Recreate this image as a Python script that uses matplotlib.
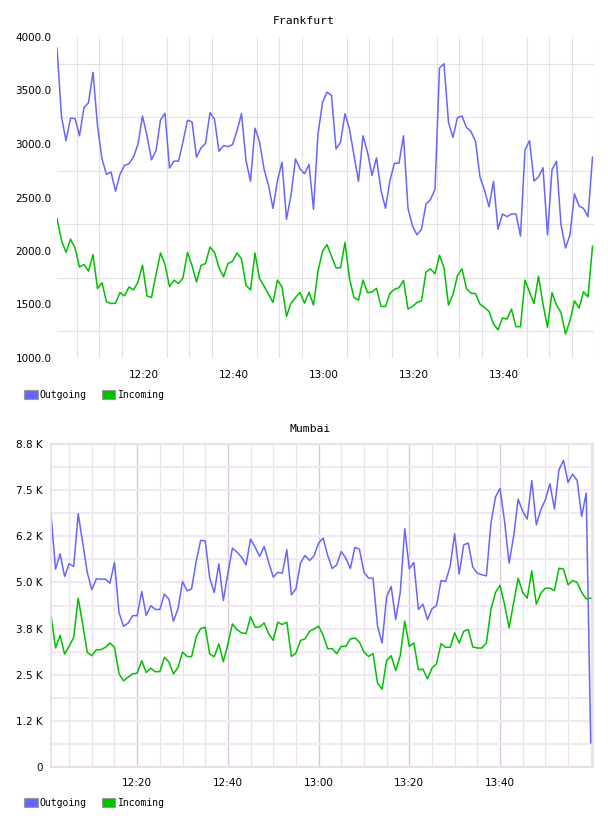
import numpy as np
import matplotlib
matplotlib.use('Agg')
from matplotlib import pyplot as plt
from matplotlib.patches import Patch
from matplotlib.ticker import FixedLocator, MultipleLocator

# Frankfurt, one sample per minute starting 12:00:40
fra_out = [3895, 3256, 3031, 3241, 3238, 3077, 3340, 3386, 3670, 3170,
           2861, 2716, 2738, 2559, 2716, 2800, 2815, 2877, 3000, 3262,
           3077, 2852, 2938, 3225, 3287, 2775, 2840, 2840, 3022, 3222,
           3207, 2877, 2963, 3006, 3293, 3232, 2932, 2985, 2975, 2994,
           3124, 3284, 2846, 2651, 3148, 3022, 2769, 2614, 2398, 2661,
           2830, 2296, 2522, 2861, 2769, 2722, 2809, 2390, 3093, 3386,
           3485, 3454, 2954, 3016, 3284, 3139, 2892, 2651, 3077, 2923,
           2707, 2870, 2568, 2399, 2661, 2821, 2821, 3077, 2398, 2235,
           2151, 2204, 2438, 2481, 2577, 3710, 3750, 3201, 3062, 3247,
           3262, 3154, 3117, 3025, 2692, 2568, 2414, 2651, 2204, 2346,
           2321, 2346, 2346, 2141, 2945, 3031, 2654, 2692, 2778, 2151,
           2759, 2837, 2244, 2027, 2151, 2533, 2421, 2398, 2321, 2877]
fra_in = [2306, 2096, 1988, 2111, 2028, 1849, 1874, 1812, 1966, 1648,
          1704, 1525, 1509, 1512, 1611, 1580, 1664, 1636, 1710, 1867,
          1580, 1565, 1781, 1981, 1874, 1667, 1728, 1694, 1750, 1988,
          1864, 1710, 1864, 1883, 2037, 1988, 1843, 1759, 1883, 1904,
          1981, 1926, 1679, 1636, 1981, 1741, 1673, 1596, 1519, 1728,
          1664, 1389, 1512, 1565, 1614, 1512, 1614, 1494, 1812, 1997,
          2059, 1951, 1843, 1843, 2080, 1741, 1565, 1540, 1728, 1611,
          1617, 1651, 1482, 1482, 1605, 1642, 1657, 1725, 1457, 1482,
          1519, 1534, 1803, 1833, 1787, 1960, 1843, 1494, 1596, 1772,
          1833, 1648, 1605, 1602, 1503, 1472, 1435, 1318, 1262, 1374,
          1364, 1457, 1293, 1293, 1728, 1617, 1509, 1765, 1503, 1287,
          1611, 1494, 1426, 1225, 1349, 1534, 1466, 1620, 1571, 2043]

# Mumbai, one sample per minute starting 12:01
mum_out = [6834, 5360, 5776, 5161, 5505, 5432, 6861, 6065, 5270, 4800,
           5098, 5089, 5089, 4980, 5541, 4180, 3810, 3900, 4100, 4100,
           4754, 4104, 4370, 4268, 4268, 4682, 4546, 3950, 4286, 5025,
           4772, 4826, 5568, 6138, 6129, 5116, 4727, 5505, 4510, 5251,
           5929, 5821, 5685, 5477, 6174, 5957, 5704, 5975, 5541, 5143,
           5270, 5251, 5884, 4664, 4826, 5523, 5731, 5595, 5722, 6065,
           6201, 5731, 5378, 5477, 5839, 5658, 5378, 5948, 5902, 5279,
           5116, 5116, 3814, 3360, 4618, 4890, 3995, 4727, 6454, 5369,
           5541, 4268, 4410, 3995, 4286, 4377, 5053, 5025, 5432, 6318,
           5224, 6020, 6065, 5414, 5251, 5206, 5179, 6607, 7313, 7548,
           6653, 5523, 6246, 7258, 6924, 6716, 7756, 6562, 6969, 7240,
           7674, 6987, 8054, 8307, 7710, 7936, 7765, 6788, 7421, 654]
mum_in = [4113, 3223, 3568, 3060, 3269, 3514, 4570, 3859, 3105, 3015,
          3178, 3178, 3242, 3360, 3242, 2524, 2334, 2434, 2524, 2542,
          2878, 2561, 2679, 2579, 2588, 2969, 2842, 2524, 2697, 3114,
          2996, 2987, 3523, 3750, 3786, 3060, 2987, 3332, 2851, 3332,
          3877, 3723, 3632, 3614, 4068, 3786, 3795, 3904, 3605, 3432,
          3923, 3859, 3923, 2996, 3087, 3430, 3469, 3677, 3741, 3814,
          3568, 3205, 3205, 3069, 3269, 3269, 3469, 3496, 3387, 3114,
          2996, 3069, 2270, 2107, 2887, 3015, 2615, 3015, 3950, 3269,
          3360, 2633, 2651, 2388, 2679, 2797, 3341, 3242, 3242, 3632,
          3360, 3677, 3723, 3251, 3223, 3223, 3360, 4268, 4727, 4917,
          4400, 3768, 4450, 5116, 4727, 4573, 5315, 4410, 4709, 4845,
          4845, 4781, 5387, 5360, 4935, 5053, 4998, 4727, 4555, 4573]

xtick_pos = [20, 40, 60, 80, 100]
xtick_lab = ['12:20', '12:40', '13:00', '13:20', '13:40']

blue = '#6666ff'
green = '#00c000'

W, H = 608, 816
fig = plt.figure(figsize=(W / 100, H / 100), dpi=100)


def px_axes(l, t, r, b):
    return fig.add_axes([l / W, 1 - b / H, (r - l) / W, (b - t) / H])


def add_legend(ytop):
    handles = [Patch(facecolor=blue, edgecolor='#999999', lw=0.8, label='Outgoing'),
               Patch(facecolor=green, edgecolor='#999999', lw=0.8, label='Incoming')]
    fig.legend(handles=handles, loc='upper left', bbox_to_anchor=(20 / W, 1 - ytop / H),
               ncol=2, frameon=False, handlelength=1.4, handleheight=1.0,
               handletextpad=0.25, columnspacing=1.5, borderaxespad=0,
               prop={'family': 'DejaVu Sans Mono', 'size': 7})


# ---- Frankfurt ----
t1 = 40 / 60 + np.arange(len(fra_out))
ax1 = px_axes(57, 37, 594, 358)
ax1.plot(t1, fra_out, color=blue, lw=1.1)
ax1.plot(t1, fra_in, color=green, lw=1.1)
ax1.set_xlim(40 / 60, 120)
ax1.set_ylim(1000, 4000)
ax1.yaxis.set_major_locator(MultipleLocator(500))
ax1.yaxis.set_minor_locator(FixedLocator(np.arange(1250, 4000, 500)))
ax1.set_yticklabels(['%.1f' % v for v in ax1.get_yticks()])
ax1.xaxis.set_major_locator(FixedLocator(xtick_pos))
ax1.xaxis.set_minor_locator(MultipleLocator(5))
ax1.set_xticklabels(xtick_lab)
ax1.grid(which='minor', color='#e2e2e2', lw=0.8)
ax1.tick_params(which='both', length=0, labelsize=7.5)
ax1.tick_params(axis='x', pad=9)
ax1.tick_params(axis='y', pad=4)
for s in ax1.spines.values():
    s.set_visible(False)
ax1.set_axisbelow(True)
fig.text(304 / W, 1 - 21 / H, 'Frankfurt', ha='center', va='center',
         family='DejaVu Sans Mono', fontsize=8.2)
add_legend(386)

# ---- Mumbai ----
t2 = 1.0 + np.arange(len(mum_out))
ax2 = px_axes(51, 444, 593, 767)
ax2.plot(t2, mum_out, color=blue, lw=1.1)
ax2.plot(t2, mum_in, color=green, lw=1.1)
ax2.set_xlim(1.0, 120.5)
ax2.set_ylim(0, 8750)
yt = np.arange(0, 8751, 1250)
ax2.yaxis.set_major_locator(FixedLocator(yt))
ax2.yaxis.set_minor_locator(FixedLocator(np.arange(625, 8750, 1250)))
ax2.set_yticklabels(['0'] + ['%.1f K' % (v / 1000) for v in yt[1:]])
ax2.xaxis.set_major_locator(FixedLocator(xtick_pos))
ax2.xaxis.set_minor_locator(MultipleLocator(5))
ax2.set_xticklabels(xtick_lab)
ax2.grid(axis='y', which='both', color='#f3e8f3', lw=1.6)
ax2.grid(axis='x', which='minor', color='#ece0ec', lw=0.9)
ax2.grid(axis='x', which='major', color='#dcc6dc', lw=1.0)
ax2.tick_params(which='both', length=0, labelsize=7.5)
ax2.tick_params(axis='x', pad=8)
ax2.tick_params(axis='y', pad=6)
for s in ax2.spines.values():
    s.set_color('#eadaea')
    s.set_linewidth(1.2)
ax2.set_axisbelow(True)
fig.text(310 / W, 1 - 429 / H, 'Mumbai', ha='center', va='center',
         family='DejaVu Sans Mono', fontsize=8.2)
add_legend(794)

plt.savefig('out.png', dpi=100)
